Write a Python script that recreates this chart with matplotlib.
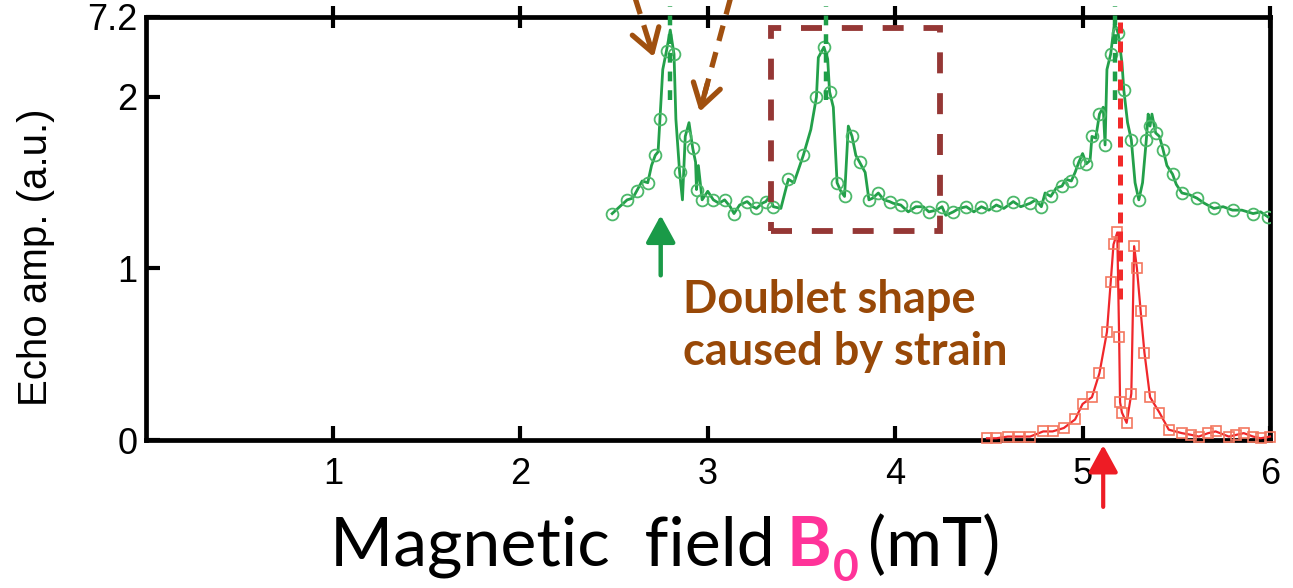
import matplotlib
matplotlib.use("Agg")
import matplotlib.pyplot as plt
from matplotlib.patches import Rectangle

# ---- data -------------------------------------------------------------
green_field = [2.49, 2.53, 2.57, 2.60, 2.62, 2.65, 2.68, 2.70, 2.72, 2.735,
               2.745, 2.76, 2.78, 2.80, 2.82, 2.83, 2.85, 2.865, 2.88, 2.90,
               2.92, 2.935, 2.94, 2.95, 2.97, 3.00, 3.03, 3.06, 3.09, 3.12,
               3.14, 3.17, 3.21, 3.24, 3.26, 3.29, 3.31, 3.33, 3.35, 3.39,
               3.43, 3.46, 3.51, 3.55, 3.58, 3.59, 3.62, 3.64, 3.65, 3.67,
               3.69, 3.71, 3.73, 3.75, 3.77, 3.79, 3.81, 3.84, 3.86, 3.88,
               3.91, 3.94, 3.97, 3.99, 4.03, 4.07, 4.11, 4.15, 4.18, 4.22,
               4.25, 4.27, 4.31, 4.34, 4.38, 4.42, 4.46, 4.50, 4.54, 4.58,
               4.63, 4.67, 4.72, 4.75, 4.78, 4.80, 4.83, 4.86, 4.89, 4.91,
               4.94, 4.96, 4.98, 5.00, 5.02, 5.04, 5.05, 5.07, 5.09, 5.11,
               5.12, 5.13, 5.15, 5.17, 5.19, 5.21, 5.22, 5.24, 5.26, 5.28,
               5.30, 5.32, 5.34, 5.35, 5.36, 5.37, 5.39, 5.41, 5.43, 5.45,
               5.48, 5.50, 5.53, 5.57, 5.61, 5.65, 5.70, 5.75, 5.80, 5.85,
               5.91, 5.95, 5.99]
green_amp = [1.32, 1.36, 1.40, 1.41, 1.45, 1.51, 1.50, 1.60, 1.66, 1.68,
             1.87, 2.16, 2.27, 2.39, 2.25, 1.87, 1.56, 1.40, 1.77, 1.85,
             1.70, 1.62, 1.46, 1.60, 1.40, 1.45, 1.40, 1.38, 1.40, 1.36,
             1.32, 1.37, 1.39, 1.36, 1.35, 1.38, 1.39, 1.42, 1.36, 1.35,
             1.52, 1.50, 1.66, 1.81, 2.00, 2.23, 2.29, 2.22, 2.03, 1.94,
             1.50, 1.45, 1.42, 1.83, 1.77, 1.66, 1.62, 1.56, 1.40, 1.41,
             1.44, 1.40, 1.39, 1.38, 1.37, 1.33, 1.36, 1.36, 1.33, 1.34,
             1.36, 1.31, 1.33, 1.35, 1.36, 1.33, 1.36, 1.34, 1.37, 1.35,
             1.39, 1.36, 1.38, 1.40, 1.36, 1.44, 1.42, 1.47, 1.48, 1.52,
             1.51, 1.56, 1.62, 1.67, 1.61, 1.63, 1.77, 1.76, 1.90, 1.94,
             1.72, 2.16, 2.25, 2.43, 2.37, 2.20, 2.04, 1.85, 1.75, 1.50,
             1.40, 1.50, 1.75, 1.90, 1.83, 1.90, 1.79, 1.77, 1.69, 1.60,
             1.55, 1.49, 1.44, 1.43, 1.41, 1.38, 1.35, 1.36, 1.34, 1.34,
             1.32, 1.33, 1.30]

red_field = [4.49, 4.54, 4.60, 4.66, 4.72, 4.79, 4.84, 4.90, 4.96, 5.00,
             5.05, 5.09, 5.13, 5.15, 5.165, 5.185, 5.195, 5.20, 5.21, 5.235,
             5.26, 5.275, 5.29, 5.31, 5.33, 5.36, 5.41, 5.46, 5.53, 5.58,
             5.62, 5.67, 5.71, 5.78, 5.82, 5.86, 5.91, 5.95, 6.00]
red_amp = [0.01, 0.01, 0.02, 0.02, 0.02, 0.05, 0.05, 0.07, 0.12, 0.21,
           0.25, 0.39, 0.63, 0.92, 1.14, 1.21, 0.60, 0.22, 0.16, 0.10,
           0.27, 1.13, 1.00, 0.75, 0.51, 0.25, 0.16, 0.06, 0.04, 0.03,
           0.02, 0.04, 0.05, 0.02, 0.03, 0.04, 0.02, 0.01, 0.02]

green_peak_fields = [2.80, 3.63, 5.175]
red_line_field = 5.20

x_ticks = [1, 2, 3, 4, 5, 6]
x_tick_labels = ["1", "2", "3", "4", "5", "6"]
y_ticks = [0, 1, 2, 2.466]
y_tick_labels = ["0", "1", "2", "7.2"]

# ---- colours ------------------------------------------------------------
GREEN = "#23a04a"
GREEN_MK = "#4cb86a"
RED = "#f0272b"
RED_MK = "#f3775f"
BROWN = "#984807"
ARROW_BROWN = "#a0500f"
BOX = "#953735"
PINK = "#ff3399"

W, H = 1293, 588
fig = plt.figure(figsize=(W / 100, H / 100), dpi=100)
ax = fig.add_axes([145.5 / W, 148 / H, (1270 - 145.5) / W, (440 - 17) / H])
ax.set_xlim(0, 6)
ax.set_ylim(0, 2.466)

# curves
ax.plot(green_field, green_amp, color=GREEN, lw=2.0, zorder=3,
        marker="o", markersize=8.5, markerfacecolor="none",
        markeredgecolor=GREEN_MK, markeredgewidth=1.3, markevery=2)
ax.plot(red_field, red_amp, color=RED, lw=1.6, zorder=3,
        marker="s", markersize=7.5, markerfacecolor="none",
        markeredgecolor=RED_MK, markeredgewidth=1.2, clip_on=False)

# peak markers
gl = ax.vlines(green_peak_fields, 1.98, 2.53, colors="#1f9e48", lw=3.2,
               linestyles=(0, (2.2, 2.0)), zorder=4)
gl.set_clip_on(False)
ax.vlines([red_line_field], 0.82, 2.45, colors="#f22a2a", lw=3.6,
          linestyles=(0, (2.2, 1.6)), zorder=5)

# dashed frame around the middle resonance
ax.add_patch(Rectangle((3.34, 1.22), 0.90, 1.18, fill=False, lw=4.2,
                       edgecolor=BOX, linestyle=(0, (3.6, 3.4)), zorder=4))

# dashed brown pointers to the doublet
for (x0, y0), (x1, y1) in [((2.60, 2.62), (2.712, 2.233)),
                           ((3.12, 2.57), (2.957, 1.913))]:
    ax.plot([x0, x0 + 0.88 * (x1 - x0)], [y0, y0 + 0.88 * (y1 - y0)],
            color=ARROW_BROWN, lw=3.8, ls=(0, (3.0, 2.2)),
            solid_capstyle="butt", clip_on=False, zorder=5)
    ax.annotate("", xy=(x1, y1),
                xytext=(x1 - 0.25 * (x1 - x0), y1 - 0.25 * (y1 - y0)),
                arrowprops=dict(arrowstyle="->,head_length=0.8,head_width=0.5",
                                color=ARROW_BROWN, lw=3.8,
                                mutation_scale=20, shrinkA=0, shrinkB=0),
                annotation_clip=False, zorder=5)

# resonance position arrows
ax.annotate("", xy=(2.749, 1.31), xytext=(2.749, 0.96),
            arrowprops=dict(arrowstyle="-|>,head_length=0.55,head_width=0.3",
                            color="#1a9a48", lw=3.2, mutation_scale=30,
                            shrinkA=0, shrinkB=0),
            annotation_clip=False)
ax.annotate("", xy=(5.11, -0.03), xytext=(5.11, -0.39),
            arrowprops=dict(arrowstyle="-|>,head_length=0.55,head_width=0.3",
                            color="#ee1c25", lw=3.0, mutation_scale=30,
                            shrinkA=0, shrinkB=0),
            annotation_clip=False)

# annotation text
ax.text(2.867, 0.74, "Doublet shape", fontsize=32.5, fontweight="bold",
        family="Lato", color=BROWN, va="baseline", ha="left")
ax.text(2.867, 0.435, "caused by strain", fontsize=32.5, fontweight="bold",
        family="Lato", color=BROWN, va="baseline", ha="left")

# axes styling
for s in ax.spines.values():
    s.set_linewidth(3.4)
ax.set_xticks(x_ticks)
ax.set_xticklabels(x_tick_labels)
ax.set_yticks(y_ticks)
ax.set_yticklabels(y_tick_labels)
ax.tick_params(axis="x", direction="in", length=10, width=3, pad=12,
               labelsize=26)
ax.tick_params(axis="y", direction="in", length=10, width=3, pad=6,
               labelsize=26)
for lab in ax.get_xticklabels() + ax.get_yticklabels():
    lab.set_family("Liberation Sans")

top = ax.secondary_xaxis("top")
top.set_xticks(x_ticks)
top.tick_params(axis="x", direction="inout", length=16, width=3,
                labeltop=False)
top.spines["top"].set_visible(False)

fig.text(36 / W, (588 - 257) / H, "Echo amp. (a.u.)", rotation=90,
         fontsize=29, family="Liberation Sans", ha="center", va="center")

# x-axis title assembled from coloured pieces
renderer = fig.canvas.get_renderer()
base_y = (588 - 566) / H
t1 = fig.text(330 / W, base_y, "Magnetic  field", fontsize=49,
              family="Lato", va="baseline", ha="left")
bb = t1.get_window_extent(renderer)
tb = fig.text((bb.x1 + 12) / W, base_y, "B", fontsize=49, family="Lato",
              fontweight="bold", color=PINK, va="baseline", ha="left")
bb = tb.get_window_extent(renderer)
t0 = fig.text((bb.x1 + 1) / W, base_y - 15 / H, "0", fontsize=32,
              family="Lato", fontweight="bold", color=PINK,
              va="baseline", ha="left")
bb = t0.get_window_extent(renderer)
fig.text((bb.x1 + 10) / W, base_y, "(mT)", fontsize=49, family="Lato",
         va="baseline", ha="left")

fig.savefig("out.png", dpi=100)
